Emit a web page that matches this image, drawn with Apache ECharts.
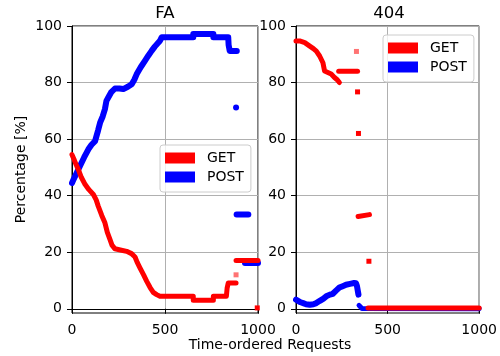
<!DOCTYPE html>
<html>
<head>
<meta charset="utf-8">
<script src="https://cdn.jsdelivr.net/npm/echarts@6/dist/echarts.min.js"></script>
<style>
html, body { margin: 0; padding: 0; background: #fff; }
#main { width: 500px; height: 356px; }
</style>
</head>
<body>
<div id="main"></div>
<script>
var panelTitles = ['FA', '404'];
var legendNames = ['GET', 'POST'];
var yTicks = [0, 20, 40, 60, 80, 100];
var xLabel = 'Time-ordered Requests';
var yLabel = 'Percentage [%]';

// FA panel, GET
var faGet = [[0, 54.5], [10, 53], [22, 51], [34, 49.3], [50, 46.5], [70, 44], [90, 42.2], [115, 40.4],
    [130, 38.5], [141, 36.3], [160, 33], [177, 30.4], [190, 27], [204, 24.5], [215, 22.5], [231, 21.2],
    [260, 20.8], [294, 20.3], [320, 19.5], [339, 18.3], [350, 16.5], [366, 14.4], [385, 12], [402, 9.7],
    [420, 7.5], [437, 5.8], [455, 5], [473, 4.4], [560, 4.4], [652, 4.4], [652, 3], [760, 3], [760, 4.4],
    [830, 4.4], [834, 7.3], [840, 9.1], [882, 9.1]];
var faGetTail = [[882, 17.1], [1000, 17.1]];
var faGetDots = [[996, 0.3]];
var faGetFaint = [[882, 12]];
// FA panel, POST
var faPost = [[0, 44.5], [7, 45.5], [25, 48], [43, 50.5], [65, 53.5], [88, 56.4], [105, 58], [124, 59.3],
    [140, 63], [151, 65.8], [165, 68], [177, 70.6], [185, 73.5], [195, 74.7], [210, 76.5], [231, 77.9],
    [255, 77.9], [276, 77.7], [300, 78.5], [321, 79.4], [335, 81], [348, 83], [370, 85.5], [392, 87.7],
    [410, 89.5], [428, 91.2], [445, 92.7], [455, 93.3], [473, 94.8], [482, 96], [652, 96], [652, 97.2],
    [760, 97.2], [760, 96], [840, 96], [842, 93.3], [848, 91.2], [886, 91.2]];
var faPostMid = [[885, 33.3], [948, 33.3]];
var faPostTail = [[930, 16.2], [1000, 16.2]];
var faPostDots = [[882, 71.2]];

// 404 panel, GET
var nfGet = [[0, 94.7], [20, 94.7], [48, 94.1], [75, 92.9], [95, 92], [111, 91.1], [129, 89.4], [147, 87],
    [156, 84.1], [165, 83.6], [192, 83], [210, 81.8], [225, 81], [237, 80]];
var nfGetFlat = [[233, 84], [336, 84]];
var nfGetMid = [[339, 32.6], [345, 33.3], [401, 33.3]];
var nfGetZero = [[393, 0.3], [1000, 0.3]];
var nfGetDots = [[336, 76.7], [341, 62], [398, 16.8]];
var nfGetFaint = [[330, 91]];
// 404 panel, POST
var nfPost = [[0, 3.2], [10, 3], [25, 2.3], [39, 2], [55, 1.6], [75, 1.4], [95, 1.6], [111, 2], [130, 2.8],
    [150, 3.6], [165, 4.4], [185, 5], [201, 5.3], [220, 6.5], [237, 7.5], [255, 8], [273, 8.5], [295, 8.8],
    [317, 9.1], [328, 9], [333, 8], [336, 7.3], [341, 5]];
var nfPostZero = [[344, 1.2], [350, 0.6], [360, 0.1], [1000, 0]];

var RED = '#ff0000', BLUE = '#0000ff';
var FONT = 'DejaVu Sans';

function trace(name, color, width, data, gi) {
    return {
        name: name, type: 'line', data: data, xAxisIndex: gi, yAxisIndex: gi,
        color: color, symbol: 'none', smooth: false, animation: false,
        lineStyle: { color: color, width: width, cap: 'round', join: 'round' }
    };
}
function dots(name, color, shape, size, data, gi, alpha) {
    return {
        name: name, type: 'scatter', data: data, xAxisIndex: gi, yAxisIndex: gi,
        color: color, symbol: shape, symbolSize: size, animation: false,
        itemStyle: { color: color, opacity: alpha }
    };
}
function xAxis(gi) {
    return {
        type: 'value', gridIndex: gi, min: 0, max: 1000, interval: 500,
        axisLine: { show: true, lineStyle: { color: '#000', width: 1 } },
        axisTick: { show: true, length: 5, lineStyle: { color: '#000' } },
        axisLabel: { color: '#000', fontFamily: FONT, fontSize: 14, margin: 10,
            formatter: function (v) { return String(v); } },
        splitLine: { show: true, lineStyle: { color: '#b0b0b0', width: 1 } }
    };
}
function yAxis(gi) {
    var ax = {
        type: 'value', gridIndex: gi, min: -1.5, max: 100,
        axisLine: { show: true, lineStyle: { color: '#000', width: 1 } },
        axisTick: { show: true, length: 5, customValues: yTicks, lineStyle: { color: '#000' } },
        axisLabel: { color: '#000', fontFamily: FONT, fontSize: 14, margin: 10, customValues: yTicks },
        splitLine: { show: true, lineStyle: { color: '#b0b0b0', width: 1 } }
    };
    if (gi === 0) {
        ax.name = yLabel;
        ax.nameLocation = 'middle';
        ax.nameGap = 44;
        ax.nameTextStyle = { color: '#000', fontFamily: FONT, fontSize: 14 };
    }
    return ax;
}
function legend(left, top) {
    return {
        data: legendNames, left: left, top: top, orient: 'vertical',
        icon: 'rect', itemWidth: 30, itemHeight: 11, itemGap: 5,
        padding: [6, 7, 8, 5],
        backgroundColor: 'rgba(255,255,255,0.8)', borderColor: '#cccccc', borderWidth: 1, borderRadius: 3,
        textStyle: { color: '#000', fontFamily: FONT, fontSize: 14, padding: [0, 0, 0, 7] }
    };
}

var chart = echarts.init(document.getElementById('main'), null, { renderer: 'canvas' });
chart.setOption({
    animation: false,
    backgroundColor: '#fff',
    title: [
        { text: panelTitles[0], left: 165, top: 5, textAlign: 'center', padding: 0,
          textStyle: { color: '#000', fontFamily: FONT, fontSize: 16.5, fontWeight: 'normal' } },
        { text: panelTitles[1], left: 389, top: 5, textAlign: 'center', padding: 0,
          textStyle: { color: '#000', fontFamily: FONT, fontSize: 16.5, fontWeight: 'normal' } },
        { text: xLabel, left: 270, top: 338, textAlign: 'center', padding: 0,
          textStyle: { color: '#000', fontFamily: FONT, fontSize: 14, fontWeight: 'normal' } }
    ],
    grid: [
        { left: 72, right: 242, top: 26, bottom: 43, show: true, borderColor: '#000', borderWidth: 1, backgroundColor: 'transparent' },
        { left: 296, right: 18, top: 26, bottom: 43, show: true, borderColor: '#000', borderWidth: 1, backgroundColor: 'transparent' }
    ],
    xAxis: [xAxis(0), xAxis(1)],
    yAxis: [yAxis(0), yAxis(1)],
    legend: [legend(160, 145), legend(383, 35)],
    series: [
        // POST drawn first, GET on top
        trace('POST', BLUE, 6, faPost, 0),
        trace('POST', BLUE, 6, faPostMid, 0),
        trace('POST', BLUE, 6, faPostTail, 0),
        dots('POST', BLUE, 'circle', 6, faPostDots, 0, 1),
        trace('GET', RED, 5, faGet, 0),
        trace('GET', RED, 5, faGetTail, 0),
        dots('GET', RED, 'rect', 5, faGetDots, 0, 1),
        dots('GET', RED, 'rect', 5, faGetFaint, 0, 0.55),

        trace('POST', BLUE, 6, nfPost, 1),
        trace('POST', BLUE, 5, nfPostZero, 1),
        trace('GET', RED, 5, nfGet, 1),
        trace('GET', RED, 5, nfGetFlat, 1),
        trace('GET', RED, 5, nfGetMid, 1),
        trace('GET', RED, 5, nfGetZero, 1),
        dots('GET', RED, 'rect', 5, nfGetDots, 1, 1),
        dots('GET', RED, 'rect', 5, nfGetFaint, 1, 0.55)
    ]
});
</script>
</body>
</html>
